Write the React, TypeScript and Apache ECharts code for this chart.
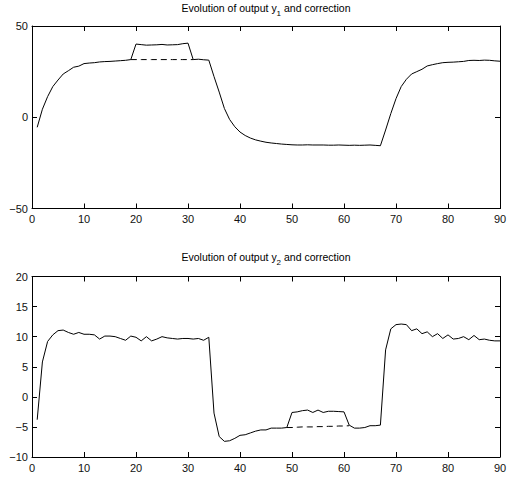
import React, { useEffect, useRef } from "react";
import * as echarts from "echarts";

// Time steps 1..90
const xTicks = { min: 0, max: 90, interval: 10 };

// Output y1 (solid), samples 1..90
const y1Output = [
  -5.5, 4.4, 11.3, 16.8, 20.4, 23.7, 25.5, 27.4, 28.0, 29.4,
  29.7, 29.9, 30.3, 30.5, 30.6, 30.8, 31.0, 31.2, 31.6, 40.1,
  39.8, 39.5, 39.6, 39.7, 39.9, 39.6, 39.7, 39.8, 40.3, 40.6,
  31.6, 31.8, 31.5, 31.3, 22.3, 13.8, 4.8, -1.2, -5.2, -8.1,
  -10.0, -11.4, -12.4, -13.1, -13.7, -14.1, -14.4, -14.7, -14.9, -15.1,
  -15.2, -15.2, -15.1, -15.2, -15.2, -15.2, -15.3, -15.3, -15.2, -15.3,
  -15.4, -15.3, -15.4, -15.3, -15.2, -15.4, -15.6, -7.0, 2.0, 10.2,
  16.8, 20.8, 23.7, 25.0, 26.3, 28.1, 28.8, 29.4, 29.9, 30.1,
  30.2, 30.4, 30.6, 31.1, 31.2, 31.1, 31.3, 31.2, 30.9, 30.7,
];
// Uncorrected y1 (dashed), samples 19..31
const y1UncorrectedStart = 19;
const y1Uncorrected = [31.6, 31.6, 31.6, 31.6, 31.6, 31.6, 31.6, 31.6, 31.6, 31.6, 31.6, 31.6, 31.6];

// Output y2 (solid), samples 1..90
const y2Output = [
  -3.8, 5.8, 9.2, 10.3, 11.0, 11.1, 10.7, 10.4, 10.7, 10.4,
  10.4, 10.3, 9.6, 10.1, 10.1, 10.0, 9.7, 9.4, 10.1, 9.9,
  9.3, 10.0, 9.3, 9.6, 10.0, 9.8, 9.7, 9.6, 9.7, 9.7,
  9.6, 9.7, 9.4, 9.9, -2.7, -6.6, -7.4, -7.3, -6.9, -6.4,
  -6.3, -6.0, -5.7, -5.5, -5.5, -5.2, -5.2, -5.2, -5.1, -2.6,
  -2.5, -2.3, -2.2, -2.6, -2.2, -2.6, -2.4, -2.4, -2.45, -2.5,
  -4.7, -5.2, -5.2, -5.1, -4.8, -4.8, -4.7, 7.8, 11.3, 12.0,
  12.1, 12.0, 11.0, 11.3, 10.5, 10.8, 10.0, 10.5, 9.7, 10.3,
  9.6, 9.7, 10.0, 9.5, 10.2, 9.5, 9.6, 9.4, 9.3, 9.3,
];
// Uncorrected y2 (dashed), samples 49..61
const y2UncorrectedStart = 49;
const y2Uncorrected = [-5.1, -5.1, -5.05, -5.0, -5.0, -5.0, -4.95, -4.95, -4.9, -4.9, -4.85, -4.85, -4.8];

const y1Axis = { min: -50, max: 50, interval: 50 };
const y2Axis = { min: -10, max: 20, interval: 5 };

const titles = [
  { pre: "Evolution of output y", sub: "1", post: " and correction" },
  { pre: "Evolution of output y", sub: "2", post: " and correction" },
];

const toPairs = (vals: number[], start: number) => vals.map((v, i) => [start + i, v]);

const FONT = "Liberation Sans, Arial, Helvetica, sans-serif";
const fmtMinus = (v: number) => String(v).replace("-", "\u2212");

export default function App() {
  const ref = useRef<HTMLDivElement>(null);
  useEffect(() => {
    if (!ref.current) return;
    const chart = echarts.init(ref.current, undefined, { renderer: "svg" });
    const grids = [
      { left: 32, width: 468, top: 26, height: 182.5 },
      { left: 32, width: 468, top: 276.5, height: 180.5 },
    ];
    const axisLine = { show: true, onZero: false, lineStyle: { color: "#000", width: 1 } };
    const tick = { show: true, inside: true, length: 5, lineStyle: { color: "#000", width: 1 } };
    const label = { color: "#111", fontSize: 11, fontFamily: FONT };
    const xAxes: any[] = [];
    const yAxes: any[] = [];
    const yRanges = [y1Axis, y2Axis];
    [0, 1].forEach((g) => {
      xAxes.push({
        type: "value", gridIndex: g, position: "bottom", ...xTicks,
        axisLine, axisTick: tick, splitLine: { show: false },
        axisLabel: { ...label, margin: 5, formatter: fmtMinus },
      });
      xAxes.push({
        type: "value", gridIndex: g, position: "top", ...xTicks,
        axisLine, axisTick: tick, splitLine: { show: false }, axisLabel: { show: false },
      });
      yAxes.push({
        type: "value", gridIndex: g, position: "left", ...yRanges[g],
        axisLine, axisTick: tick, splitLine: { show: false },
        axisLabel: { ...label, margin: 4, formatter: fmtMinus },
      });
      yAxes.push({
        type: "value", gridIndex: g, position: "right", ...yRanges[g],
        axisLine, axisTick: tick, splitLine: { show: false }, axisLabel: { show: false },
      });
    });
    const solid = (data: number[][], g: number) => ({
      type: "line", xAxisIndex: g * 2, yAxisIndex: g * 2, data, showSymbol: false,
      lineStyle: { color: "#000", width: 1 }, itemStyle: { color: "#000" }, z: 3,
    });
    const dashed = (data: number[][], g: number) => ({
      type: "line", xAxisIndex: g * 2, yAxisIndex: g * 2, data, showSymbol: false,
      lineStyle: { color: "#000", width: 1, type: [6, 4] }, itemStyle: { color: "#000" }, z: 2,
    });
    const titleY = [2, 251];
    chart.setOption({
      animation: false,
      backgroundColor: "#fff",
      grid: grids,
      xAxis: xAxes,
      yAxis: yAxes,
      graphic: titles.map((t, i) => ({
        type: "text",
        x: 266,
        y: titleY[i],
        style: {
          text: `{a|${t.pre}}{s|${t.sub}}{a|${t.post}}`,
          align: "center",
          verticalAlign: "top",
          rich: {
            a: { fontSize: 10.5, fontFamily: FONT, fill: "#000", lineHeight: 12, verticalAlign: "top" },
            s: { fontSize: 8, fontFamily: FONT, fill: "#000", lineHeight: 22, verticalAlign: "middle" },
          },
        },
      })),
      series: [
        dashed(toPairs(y1Uncorrected, y1UncorrectedStart), 0),
        solid(toPairs(y1Output, 1), 0),
        dashed(toPairs(y2Uncorrected, y2UncorrectedStart), 1),
        solid(toPairs(y2Output, 1), 1),
      ],
    });
    return () => chart.dispose();
  }, []);
  return (
    <div
      ref={ref}
      style={{ position: "fixed", left: 0, top: 0, width: 517, height: 482, background: "#fff" }}
    />
  );
}
